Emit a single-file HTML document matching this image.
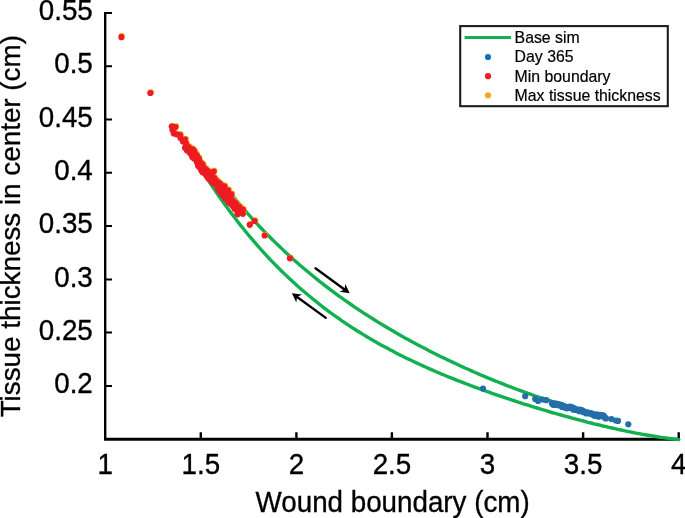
<!DOCTYPE html>
<html><head><meta charset="utf-8"><title>Wound boundary vs tissue thickness</title>
<style>html,body{margin:0;padding:0;background:#fff}body{width:685px;height:518px;overflow:hidden}</style></head>
<body>
<svg width="685" height="518" viewBox="0 0 685 518" style="display:block">
<rect width="685" height="518" fill="#fff"/>
<g stroke="#000" fill="none">
<path d="M105.2 12 V439.2" stroke-width="2.4"/>
<path d="M104 439.2 H680" stroke-width="3"/>
<path d="M200.8 439 V432.3M296.4 439 V432.3M391.9 439 V432.3M487.5 439 V432.3M583.1 439 V432.3M678.7 439 V432.3" stroke-width="2.4"/>
<path d="M105 385.9 H112M105 332.6 H112M105 279.4 H112M105 226.1 H112M105 172.8 H112M105 119.5 H112M105 66.3 H112M105 13.0 H112" stroke-width="2"/>
</g>
<g fill="none" stroke="#12b050" stroke-width="3.4" stroke-linecap="round" stroke-linejoin="round">
<path d="M207.0 178.3 L210.0 182.9 L213.0 187.4 L216.0 191.9 L219.0 196.2 L222.0 200.5 L225.0 204.7 L228.0 208.8 L231.0 212.9 L234.0 216.8 L237.0 220.7 L240.0 224.6 L243.0 228.3 L246.0 232.0 L249.0 235.7 L252.0 239.2 L255.0 242.7 L258.0 246.1 L261.0 249.5 L264.0 252.8 L267.0 256.1 L270.0 259.3 L273.0 262.4 L276.0 265.5 L279.0 268.5 L282.0 271.5 L285.0 274.4 L288.0 277.2 L291.0 280.0 L294.0 282.8 L297.0 285.5 L300.0 288.2 L303.0 290.8 L306.0 293.3 L309.0 295.8 L312.0 298.3 L315.0 300.7 L318.0 303.1 L321.0 305.5 L324.0 307.8 L327.0 310.1 L330.0 312.3 L333.0 314.5 L336.0 316.6 L339.0 318.7 L342.0 320.8 L345.0 322.8 L348.0 324.8 L351.0 326.8 L354.0 328.8 L357.0 330.7 L360.0 332.5 L363.0 334.4 L366.0 336.2 L369.0 338.0 L372.0 339.7 L375.0 341.5 L378.0 343.2 L381.0 344.9 L384.0 346.5 L387.0 348.1 L390.0 349.7 L393.0 351.3 L396.0 352.9 L399.0 354.4 L402.0 355.9 L405.0 357.4 L408.0 358.9 L411.0 360.3 L414.0 361.7 L417.0 363.1 L420.0 364.5 L423.0 365.9 L426.0 367.3 L429.0 368.6 L432.0 369.9 L435.0 371.2 L438.0 372.5 L441.0 373.8 L444.0 375.0 L447.0 376.3 L450.0 377.5 L453.0 378.7 L456.0 379.9 L459.0 381.1 L462.0 382.2 L465.0 383.4 L468.0 384.5 L471.0 385.7 L474.0 386.8 L477.0 387.9 L480.0 389.0 L483.0 390.1 L486.0 391.2 L489.0 392.2 L492.0 393.3 L495.0 394.3 L498.0 395.4 L501.0 396.4 L504.0 397.4 L507.0 398.4 L510.0 399.4 L513.0 400.4 L516.0 401.4 L519.0 402.4 L522.0 403.3 L525.0 404.3 L528.0 405.2 L531.0 406.1 L534.0 407.1 L537.0 408.0 L540.0 408.9 L543.0 409.8 L546.0 410.7 L549.0 411.6 L552.0 412.5 L555.0 413.3 L558.0 414.2 L561.0 415.0 L564.0 415.9 L567.0 416.7 L570.0 417.5 L573.0 418.3 L576.0 419.1 L579.0 419.9 L582.0 420.7 L585.0 421.5 L588.0 422.3 L591.0 423.0 L594.0 423.8 L597.0 424.5 L600.0 425.2 L603.0 426.0 L606.0 426.7 L609.0 427.4 L612.0 428.0 L615.0 428.7 L618.0 429.4 L621.0 430.0 L624.0 430.7 L627.0 431.3 L630.0 431.9 L633.0 432.5 L636.0 433.1 L639.0 433.6 L642.0 434.2 L645.0 434.7 L648.0 435.2 L651.0 435.7 L654.0 436.2 L657.0 436.7 L660.0 437.2 L663.0 437.6 L666.0 438.0 L669.0 438.4 L672.0 438.8 L675.0 439.1 L678.0 439.5 L678.8 439.6"/>
<path d="M222.0 182.5 L225.0 186.4 L228.0 190.1 L231.0 193.8 L234.0 197.5 L237.0 201.1 L240.0 204.7 L243.0 208.1 L246.0 211.6 L249.0 215.0 L252.0 218.3 L255.0 221.6 L258.0 224.8 L261.0 228.0 L264.0 231.1 L267.0 234.2 L270.0 237.2 L273.0 240.2 L276.0 243.1 L279.0 246.0 L282.0 248.9 L285.0 251.7 L288.0 254.5 L291.0 257.2 L294.0 259.9 L297.0 262.6 L300.0 265.2 L303.0 267.8 L306.0 270.3 L309.0 272.8 L312.0 275.3 L315.0 277.7 L318.0 280.1 L321.0 282.5 L324.0 284.8 L327.0 287.1 L330.0 289.4 L333.0 291.7 L336.0 293.9 L339.0 296.1 L342.0 298.2 L345.0 300.3 L348.0 302.4 L351.0 304.5 L354.0 306.6 L357.0 308.6 L360.0 310.6 L363.0 312.6 L366.0 314.5 L369.0 316.4 L372.0 318.3 L375.0 320.2 L378.0 322.1 L381.0 323.9 L384.0 325.7 L387.0 327.5 L390.0 329.3 L393.0 331.0 L396.0 332.8 L399.0 334.5 L402.0 336.2 L405.0 337.9 L408.0 339.5 L411.0 341.2 L414.0 342.8 L417.0 344.4 L420.0 346.0 L423.0 347.6 L426.0 349.1 L429.0 350.7 L432.0 352.2 L435.0 353.7 L438.0 355.2 L441.0 356.7 L444.0 358.1 L447.0 359.6 L450.0 361.0 L453.0 362.4 L456.0 363.8 L459.0 365.2 L462.0 366.6 L465.0 368.0 L468.0 369.3 L471.0 370.6 L474.0 372.0 L477.0 373.3 L480.0 374.6 L483.0 375.8 L486.0 377.1 L489.0 378.4 L492.0 379.6 L495.0 380.8 L498.0 382.0 L501.0 383.2 L504.0 384.4 L507.0 385.6 L510.0 386.7 L513.0 387.9 L516.0 389.0 L519.0 390.1 L522.0 391.2 L525.0 392.3 L528.0 393.4 L531.0 394.4 L534.0 395.5 L537.0 396.5 L540.0 397.5 L543.0 398.5 L546.0 399.5 L549.0 400.4 L552.0 401.4 L555.0 402.3 L558.0 403.2 L561.0 404.1 L564.0 405.0 L567.0 405.9 L570.0 406.7 L573.0 407.5 L574.0 407.8"/>
</g>
<g fill="#f2a81d"><circle cx="121.7" cy="36.1" r="3.1"/><circle cx="151.0" cy="92.3" r="3.1"/><circle cx="172.5" cy="125.8" r="3.1"/><circle cx="176.1" cy="126.3" r="3.1"/><circle cx="174.5" cy="132.7" r="3.1"/><circle cx="180.7" cy="134.3" r="3.1"/><circle cx="181.2" cy="137.3" r="3.1"/><circle cx="185.7" cy="138.9" r="3.1"/><circle cx="186.7" cy="143.0" r="3.1"/><circle cx="185.7" cy="147.1" r="3.1"/><circle cx="190.3" cy="149.6" r="3.1"/><circle cx="192.3" cy="149.3" r="3.1"/><circle cx="255.2" cy="220.3" r="3.1"/><circle cx="250.3" cy="224.1" r="3.1"/><circle cx="265.2" cy="234.8" r="3.1"/><circle cx="290.5" cy="257.6" r="3.1"/><circle cx="173.2" cy="129.3" r="3.1"/><circle cx="177.7" cy="133.8" r="3.1"/><circle cx="183.7" cy="140.8" r="3.1"/><circle cx="189.2" cy="146.3" r="3.1"/><circle cx="187.7" cy="149.8" r="3.1"/><circle cx="190.7" cy="152.3" r="3.1"/><circle cx="193.2" cy="154.8" r="3.1"/><circle cx="225.0" cy="185.6" r="3.1"/><circle cx="228.7" cy="189.6" r="3.1"/><circle cx="232.0" cy="193.6" r="3.1"/><circle cx="238.2" cy="213.6" r="3.1"/><circle cx="243.5" cy="213.1" r="3.1"/><circle cx="243.5" cy="209.0" r="3.1"/><circle cx="235.2" cy="208.0" r="3.1"/><circle cx="214.3" cy="170.8" r="3.1"/><circle cx="191.9" cy="148.8" r="3.1"/><circle cx="192.7" cy="148.6" r="3.1"/><circle cx="191.1" cy="150.3" r="3.1"/><circle cx="193.4" cy="149.0" r="3.1"/><circle cx="191.9" cy="150.6" r="3.1"/><circle cx="192.7" cy="150.4" r="3.1"/><circle cx="194.0" cy="149.8" r="3.1"/><circle cx="192.5" cy="151.4" r="3.1"/><circle cx="194.4" cy="150.3" r="3.1"/><circle cx="193.2" cy="151.7" r="3.1"/><circle cx="194.7" cy="151.0" r="3.1"/><circle cx="194.8" cy="151.4" r="3.1"/><circle cx="193.8" cy="152.6" r="3.1"/><circle cx="192.5" cy="154.0" r="3.1"/><circle cx="195.2" cy="152.3" r="3.1"/><circle cx="195.1" cy="152.9" r="3.1"/><circle cx="193.8" cy="154.3" r="3.1"/><circle cx="192.8" cy="155.5" r="3.1"/><circle cx="194.3" cy="154.8" r="3.1"/><circle cx="195.2" cy="154.6" r="3.1"/><circle cx="193.3" cy="156.5" r="3.1"/><circle cx="196.8" cy="154.2" r="3.1"/><circle cx="194.1" cy="156.7" r="3.1"/><circle cx="196.3" cy="155.4" r="3.1"/><circle cx="197.0" cy="155.3" r="3.1"/><circle cx="197.3" cy="155.5" r="3.1"/><circle cx="196.8" cy="156.4" r="3.1"/><circle cx="195.2" cy="158.1" r="3.1"/><circle cx="197.7" cy="156.6" r="3.1"/><circle cx="196.4" cy="158.0" r="3.1"/><circle cx="196.4" cy="158.4" r="3.1"/><circle cx="197.5" cy="158.0" r="3.1"/><circle cx="197.1" cy="158.8" r="3.1"/><circle cx="199.0" cy="157.7" r="3.1"/><circle cx="199.2" cy="158.0" r="3.1"/><circle cx="198.9" cy="158.7" r="3.1"/><circle cx="197.4" cy="160.3" r="3.1"/><circle cx="198.5" cy="159.9" r="3.1"/><circle cx="199.1" cy="159.9" r="3.1"/><circle cx="198.3" cy="160.9" r="3.1"/><circle cx="198.9" cy="160.8" r="3.1"/><circle cx="199.7" cy="160.7" r="3.1"/><circle cx="198.1" cy="162.4" r="3.1"/><circle cx="198.6" cy="162.4" r="3.1"/><circle cx="200.4" cy="161.4" r="3.1"/><circle cx="199.4" cy="162.6" r="3.1"/><circle cx="199.8" cy="162.8" r="3.1"/><circle cx="198.7" cy="164.1" r="3.1"/><circle cx="199.4" cy="164.0" r="3.1"/><circle cx="201.2" cy="163.0" r="3.1"/><circle cx="198.9" cy="165.2" r="3.1"/><circle cx="202.2" cy="163.1" r="3.1"/><circle cx="201.3" cy="164.3" r="3.1"/><circle cx="200.3" cy="165.5" r="3.1"/><circle cx="202.7" cy="164.1" r="3.1"/><circle cx="201.6" cy="165.3" r="3.1"/><circle cx="203.4" cy="164.4" r="3.1"/><circle cx="201.3" cy="166.4" r="3.1"/><circle cx="201.2" cy="167.0" r="3.1"/><circle cx="202.1" cy="166.7" r="3.1"/><circle cx="201.1" cy="167.9" r="3.1"/><circle cx="203.4" cy="166.6" r="3.1"/><circle cx="202.2" cy="168.0" r="3.1"/><circle cx="202.7" cy="168.0" r="3.1"/><circle cx="203.0" cy="168.2" r="3.1"/><circle cx="203.6" cy="168.2" r="3.1"/><circle cx="202.4" cy="169.5" r="3.1"/><circle cx="202.2" cy="170.1" r="3.1"/><circle cx="204.2" cy="169.0" r="3.1"/><circle cx="203.7" cy="169.8" r="3.1"/><circle cx="206.1" cy="168.4" r="3.1"/><circle cx="204.0" cy="170.4" r="3.1"/><circle cx="204.5" cy="170.5" r="3.1"/><circle cx="203.5" cy="171.8" r="3.1"/><circle cx="204.3" cy="171.5" r="3.1"/><circle cx="206.5" cy="170.3" r="3.1"/><circle cx="206.4" cy="170.8" r="3.1"/><circle cx="205.6" cy="171.9" r="3.1"/><circle cx="208.2" cy="170.3" r="3.1"/><circle cx="206.8" cy="171.8" r="3.1"/><circle cx="208.1" cy="171.2" r="3.1"/><circle cx="208.5" cy="171.3" r="3.1"/><circle cx="209.0" cy="171.4" r="3.1"/><circle cx="206.6" cy="173.7" r="3.1"/><circle cx="209.2" cy="172.1" r="3.1"/><circle cx="209.0" cy="172.7" r="3.1"/><circle cx="208.7" cy="173.4" r="3.1"/><circle cx="207.2" cy="175.0" r="3.1"/><circle cx="210.3" cy="173.0" r="3.1"/><circle cx="209.2" cy="174.3" r="3.1"/><circle cx="209.1" cy="174.8" r="3.1"/><circle cx="208.1" cy="176.0" r="3.1"/><circle cx="208.6" cy="176.1" r="3.1"/><circle cx="208.7" cy="176.5" r="3.1"/><circle cx="211.0" cy="175.1" r="3.1"/><circle cx="210.8" cy="175.7" r="3.1"/><circle cx="211.2" cy="175.8" r="3.1"/><circle cx="209.6" cy="177.5" r="3.1"/><circle cx="209.5" cy="178.0" r="3.1"/><circle cx="212.7" cy="176.0" r="3.1"/><circle cx="212.8" cy="176.3" r="3.1"/><circle cx="212.9" cy="176.7" r="3.1"/><circle cx="213.1" cy="177.0" r="3.1"/><circle cx="212.4" cy="177.9" r="3.1"/><circle cx="212.3" cy="178.5" r="3.1"/><circle cx="213.7" cy="177.8" r="3.1"/><circle cx="214.9" cy="177.3" r="3.1"/><circle cx="213.6" cy="178.8" r="3.1"/><circle cx="214.0" cy="178.9" r="3.1"/><circle cx="213.6" cy="179.7" r="3.1"/><circle cx="212.4" cy="181.0" r="3.1"/><circle cx="213.6" cy="180.5" r="3.1"/><circle cx="214.5" cy="180.3" r="3.1"/><circle cx="214.3" cy="180.8" r="3.1"/><circle cx="214.3" cy="181.3" r="3.1"/><circle cx="216.8" cy="179.8" r="3.1"/><circle cx="214.0" cy="182.4" r="3.1"/><circle cx="214.7" cy="182.3" r="3.1"/><circle cx="214.6" cy="182.8" r="3.1"/><circle cx="215.1" cy="182.9" r="3.1"/><circle cx="216.8" cy="182.0" r="3.1"/><circle cx="217.0" cy="182.2" r="3.1"/><circle cx="218.3" cy="181.7" r="3.1"/><circle cx="216.6" cy="183.4" r="3.1"/><circle cx="219.0" cy="182.1" r="3.1"/><circle cx="219.2" cy="182.3" r="3.1"/><circle cx="218.9" cy="183.0" r="3.1"/><circle cx="219.3" cy="183.1" r="3.1"/><circle cx="218.9" cy="183.9" r="3.1"/><circle cx="220.1" cy="183.4" r="3.1"/><circle cx="220.5" cy="183.5" r="3.1"/><circle cx="220.2" cy="184.2" r="3.1"/><circle cx="220.6" cy="184.3" r="3.1"/><circle cx="219.8" cy="185.3" r="3.1"/><circle cx="221.3" cy="184.7" r="3.1"/><circle cx="218.4" cy="187.3" r="3.1"/><circle cx="219.6" cy="186.9" r="3.1"/><circle cx="221.5" cy="185.8" r="3.1"/><circle cx="221.3" cy="186.4" r="3.1"/><circle cx="221.2" cy="186.9" r="3.1"/><circle cx="221.3" cy="187.2" r="3.1"/><circle cx="222.4" cy="186.8" r="3.1"/><circle cx="220.0" cy="189.2" r="3.1"/><circle cx="219.7" cy="189.8" r="3.1"/><circle cx="221.8" cy="188.6" r="3.1"/><circle cx="221.9" cy="189.0" r="3.1"/><circle cx="223.6" cy="188.1" r="3.1"/><circle cx="223.8" cy="188.4" r="3.1"/><circle cx="223.1" cy="189.4" r="3.1"/><circle cx="223.6" cy="189.4" r="3.1"/><circle cx="221.8" cy="191.3" r="3.1"/><circle cx="224.4" cy="189.7" r="3.1"/><circle cx="225.1" cy="189.6" r="3.1"/><circle cx="222.0" cy="192.5" r="3.1"/><circle cx="223.7" cy="191.5" r="3.1"/><circle cx="225.3" cy="190.7" r="3.1"/><circle cx="224.1" cy="192.1" r="3.1"/><circle cx="226.2" cy="191.0" r="3.1"/><circle cx="224.6" cy="192.6" r="3.1"/><circle cx="223.1" cy="194.2" r="3.1"/><circle cx="223.8" cy="194.1" r="3.1"/><circle cx="224.6" cy="193.9" r="3.1"/><circle cx="226.4" cy="193.0" r="3.1"/><circle cx="226.2" cy="193.6" r="3.1"/><circle cx="227.1" cy="193.3" r="3.1"/><circle cx="225.2" cy="195.2" r="3.1"/><circle cx="226.2" cy="194.8" r="3.1"/><circle cx="225.6" cy="195.8" r="3.1"/><circle cx="227.4" cy="194.8" r="3.1"/><circle cx="228.0" cy="194.8" r="3.1"/><circle cx="226.1" cy="196.7" r="3.1"/><circle cx="225.7" cy="197.5" r="3.1"/><circle cx="226.4" cy="197.4" r="3.1"/><circle cx="226.7" cy="197.5" r="3.1"/><circle cx="226.9" cy="197.8" r="3.1"/><circle cx="227.4" cy="197.9" r="3.1"/><circle cx="229.5" cy="196.7" r="3.1"/><circle cx="228.6" cy="197.8" r="3.1"/><circle cx="229.5" cy="197.6" r="3.1"/><circle cx="230.9" cy="196.9" r="3.1"/><circle cx="231.2" cy="197.2" r="3.1"/><circle cx="230.5" cy="198.1" r="3.1"/><circle cx="230.8" cy="198.3" r="3.1"/><circle cx="229.5" cy="199.8" r="3.1"/><circle cx="228.8" cy="200.8" r="3.1"/><circle cx="230.9" cy="199.6" r="3.1"/><circle cx="229.3" cy="201.2" r="3.1"/><circle cx="229.4" cy="201.6" r="3.1"/><circle cx="229.8" cy="201.7" r="3.1"/><circle cx="232.2" cy="200.3" r="3.1"/><circle cx="232.9" cy="200.2" r="3.1"/><circle cx="233.2" cy="200.4" r="3.1"/><circle cx="233.5" cy="200.6" r="3.1"/><circle cx="233.7" cy="200.8" r="3.1"/><circle cx="232.5" cy="202.3" r="3.1"/><circle cx="231.7" cy="203.3" r="3.1"/><circle cx="232.2" cy="203.4" r="3.1"/><circle cx="233.7" cy="202.6" r="3.1"/><circle cx="233.3" cy="203.3" r="3.1"/><circle cx="233.0" cy="204.0" r="3.1"/><circle cx="235.9" cy="202.2" r="3.1"/><circle cx="234.0" cy="204.1" r="3.1"/><circle cx="233.4" cy="205.0" r="3.1"/><circle cx="234.1" cy="204.9" r="3.1"/><circle cx="234.5" cy="205.1" r="3.1"/><circle cx="235.7" cy="204.5" r="3.1"/><circle cx="237.0" cy="203.9" r="3.1"/><circle cx="235.1" cy="205.9" r="3.1"/><circle cx="237.0" cy="204.9" r="3.1"/><circle cx="235.5" cy="206.4" r="3.1"/><circle cx="235.1" cy="207.1" r="3.1"/><circle cx="237.5" cy="205.8" r="3.1"/><circle cx="237.7" cy="206.0" r="3.1"/><circle cx="236.0" cy="207.8" r="3.1"/><circle cx="237.0" cy="207.4" r="3.1"/><circle cx="239.3" cy="206.1" r="3.1"/><circle cx="239.7" cy="206.2" r="3.1"/><circle cx="239.8" cy="206.6" r="3.1"/><circle cx="237.4" cy="208.9" r="3.1"/><circle cx="238.0" cy="208.9" r="3.1"/><circle cx="240.6" cy="207.3" r="3.1"/><circle cx="238.3" cy="209.5" r="3.1"/><circle cx="237.9" cy="210.2" r="3.1"/><circle cx="239.3" cy="209.6" r="3.1"/><circle cx="240.7" cy="209.0" r="3.1"/><circle cx="240.1" cy="209.8" r="3.1"/><circle cx="241.9" cy="208.9" r="3.1"/><circle cx="242.5" cy="208.9" r="3.1"/><circle cx="239.2" cy="211.8" r="3.1"/><circle cx="240.6" cy="211.2" r="3.1"/></g>
<g fill="#246eaa"><circle cx="483.0" cy="388.6" r="3.1"/><circle cx="525.2" cy="396.2" r="3.1"/><circle cx="535.2" cy="399.0" r="3.1"/><circle cx="538.0" cy="401.0" r="3.1"/><circle cx="542.5" cy="399.5" r="3.1"/><circle cx="546.2" cy="400.2" r="3.1"/><circle cx="628.3" cy="424.3" r="3.1"/><circle cx="618.0" cy="420.9" r="3.1"/><circle cx="615.8" cy="420.5" r="3.1"/><circle cx="611.4" cy="419.0" r="3.1"/><circle cx="552.0" cy="403.4" r="3.1"/><circle cx="552.8" cy="404.6" r="3.1"/><circle cx="553.6" cy="403.5" r="3.1"/><circle cx="554.3" cy="404.9" r="3.1"/><circle cx="555.1" cy="405.0" r="3.1"/><circle cx="555.9" cy="403.6" r="3.1"/><circle cx="556.7" cy="403.9" r="3.1"/><circle cx="557.5" cy="404.2" r="3.1"/><circle cx="558.3" cy="404.3" r="3.1"/><circle cx="559.0" cy="405.4" r="3.1"/><circle cx="559.8" cy="404.7" r="3.1"/><circle cx="560.6" cy="405.3" r="3.1"/><circle cx="561.4" cy="404.8" r="3.1"/><circle cx="562.2" cy="407.0" r="3.1"/><circle cx="563.0" cy="405.8" r="3.1"/><circle cx="563.7" cy="406.3" r="3.1"/><circle cx="564.5" cy="406.8" r="3.1"/><circle cx="565.3" cy="407.8" r="3.1"/><circle cx="566.1" cy="406.8" r="3.1"/><circle cx="566.9" cy="408.3" r="3.1"/><circle cx="567.7" cy="407.4" r="3.1"/><circle cx="568.4" cy="407.7" r="3.1"/><circle cx="569.2" cy="407.9" r="3.1"/><circle cx="570.0" cy="406.7" r="3.1"/><circle cx="570.8" cy="408.0" r="3.1"/><circle cx="571.6" cy="407.6" r="3.1"/><circle cx="572.3" cy="407.3" r="3.1"/><circle cx="573.1" cy="409.6" r="3.1"/><circle cx="573.9" cy="408.2" r="3.1"/><circle cx="574.7" cy="409.2" r="3.1"/><circle cx="575.5" cy="410.0" r="3.1"/><circle cx="576.3" cy="409.8" r="3.1"/><circle cx="577.0" cy="409.4" r="3.1"/><circle cx="577.8" cy="410.1" r="3.1"/><circle cx="578.6" cy="410.4" r="3.1"/><circle cx="579.4" cy="411.2" r="3.1"/><circle cx="580.2" cy="409.6" r="3.1"/><circle cx="581.0" cy="411.0" r="3.1"/><circle cx="581.7" cy="410.4" r="3.1"/><circle cx="582.5" cy="410.7" r="3.1"/><circle cx="583.3" cy="412.2" r="3.1"/><circle cx="584.1" cy="411.7" r="3.1"/><circle cx="584.9" cy="412.0" r="3.1"/><circle cx="585.7" cy="412.8" r="3.1"/><circle cx="586.4" cy="413.4" r="3.1"/><circle cx="587.2" cy="412.3" r="3.1"/><circle cx="588.0" cy="413.0" r="3.1"/><circle cx="588.8" cy="412.9" r="3.1"/><circle cx="589.6" cy="413.1" r="3.1"/><circle cx="590.3" cy="413.8" r="3.1"/><circle cx="591.1" cy="413.4" r="3.1"/><circle cx="591.9" cy="413.8" r="3.1"/><circle cx="592.7" cy="413.9" r="3.1"/><circle cx="593.5" cy="415.3" r="3.1"/><circle cx="594.3" cy="414.9" r="3.1"/><circle cx="595.0" cy="415.5" r="3.1"/><circle cx="595.8" cy="415.9" r="3.1"/><circle cx="596.6" cy="414.3" r="3.1"/><circle cx="597.4" cy="415.3" r="3.1"/><circle cx="598.2" cy="416.5" r="3.1"/><circle cx="599.0" cy="416.4" r="3.1"/><circle cx="599.7" cy="414.8" r="3.1"/><circle cx="600.5" cy="415.0" r="3.1"/><circle cx="601.3" cy="416.0" r="3.1"/><circle cx="602.1" cy="415.3" r="3.1"/><circle cx="602.9" cy="415.9" r="3.1"/><circle cx="603.7" cy="415.7" r="3.1"/><circle cx="604.4" cy="417.4" r="3.1"/><circle cx="605.2" cy="417.9" r="3.1"/><circle cx="606.0" cy="418.4" r="3.1"/></g>
<g fill="#ed1c24"><circle cx="121.4" cy="37.2" r="3.1"/><circle cx="150.3" cy="93.0" r="3.1"/><circle cx="171.8" cy="126.5" r="3.1"/><circle cx="175.4" cy="127.0" r="3.1"/><circle cx="173.8" cy="133.4" r="3.1"/><circle cx="180.0" cy="135.0" r="3.1"/><circle cx="180.5" cy="138.0" r="3.1"/><circle cx="185.0" cy="139.6" r="3.1"/><circle cx="186.0" cy="143.7" r="3.1"/><circle cx="185.0" cy="147.8" r="3.1"/><circle cx="189.7" cy="150.3" r="3.1"/><circle cx="191.7" cy="150.0" r="3.1"/><circle cx="254.5" cy="221.0" r="3.1"/><circle cx="249.7" cy="224.8" r="3.1"/><circle cx="264.6" cy="235.5" r="3.1"/><circle cx="289.9" cy="258.3" r="3.1"/><circle cx="172.5" cy="130.0" r="3.1"/><circle cx="177.0" cy="134.5" r="3.1"/><circle cx="183.0" cy="141.5" r="3.1"/><circle cx="188.5" cy="147.0" r="3.1"/><circle cx="187.0" cy="150.5" r="3.1"/><circle cx="190.0" cy="153.0" r="3.1"/><circle cx="192.5" cy="155.5" r="3.1"/><circle cx="224.3" cy="186.3" r="3.1"/><circle cx="228.0" cy="190.3" r="3.1"/><circle cx="231.3" cy="194.3" r="3.1"/><circle cx="237.6" cy="214.3" r="3.1"/><circle cx="242.8" cy="213.8" r="3.1"/><circle cx="242.8" cy="209.7" r="3.1"/><circle cx="234.6" cy="208.7" r="3.1"/><circle cx="213.7" cy="171.5" r="3.1"/><circle cx="191.2" cy="149.5" r="3.1"/><circle cx="192.1" cy="149.3" r="3.1"/><circle cx="190.4" cy="151.0" r="3.1"/><circle cx="192.7" cy="149.7" r="3.1"/><circle cx="191.2" cy="151.3" r="3.1"/><circle cx="192.0" cy="151.1" r="3.1"/><circle cx="193.3" cy="150.5" r="3.1"/><circle cx="191.9" cy="152.1" r="3.1"/><circle cx="193.8" cy="151.0" r="3.1"/><circle cx="192.5" cy="152.4" r="3.1"/><circle cx="194.0" cy="151.7" r="3.1"/><circle cx="194.2" cy="152.1" r="3.1"/><circle cx="193.1" cy="153.3" r="3.1"/><circle cx="191.9" cy="154.7" r="3.1"/><circle cx="194.6" cy="153.0" r="3.1"/><circle cx="194.4" cy="153.6" r="3.1"/><circle cx="193.1" cy="155.0" r="3.1"/><circle cx="192.2" cy="156.2" r="3.1"/><circle cx="193.7" cy="155.5" r="3.1"/><circle cx="194.5" cy="155.3" r="3.1"/><circle cx="192.6" cy="157.2" r="3.1"/><circle cx="196.2" cy="154.9" r="3.1"/><circle cx="193.4" cy="157.4" r="3.1"/><circle cx="195.7" cy="156.1" r="3.1"/><circle cx="196.4" cy="156.0" r="3.1"/><circle cx="196.7" cy="156.2" r="3.1"/><circle cx="196.2" cy="157.1" r="3.1"/><circle cx="194.5" cy="158.8" r="3.1"/><circle cx="197.0" cy="157.3" r="3.1"/><circle cx="195.7" cy="158.7" r="3.1"/><circle cx="195.7" cy="159.1" r="3.1"/><circle cx="196.9" cy="158.7" r="3.1"/><circle cx="196.4" cy="159.5" r="3.1"/><circle cx="198.4" cy="158.4" r="3.1"/><circle cx="198.6" cy="158.7" r="3.1"/><circle cx="198.2" cy="159.4" r="3.1"/><circle cx="196.7" cy="161.0" r="3.1"/><circle cx="197.8" cy="160.6" r="3.1"/><circle cx="198.4" cy="160.6" r="3.1"/><circle cx="197.6" cy="161.6" r="3.1"/><circle cx="198.3" cy="161.5" r="3.1"/><circle cx="199.0" cy="161.4" r="3.1"/><circle cx="197.4" cy="163.1" r="3.1"/><circle cx="197.9" cy="163.1" r="3.1"/><circle cx="199.8" cy="162.1" r="3.1"/><circle cx="198.8" cy="163.3" r="3.1"/><circle cx="199.1" cy="163.5" r="3.1"/><circle cx="198.1" cy="164.8" r="3.1"/><circle cx="198.8" cy="164.7" r="3.1"/><circle cx="200.6" cy="163.7" r="3.1"/><circle cx="198.2" cy="165.9" r="3.1"/><circle cx="201.6" cy="163.8" r="3.1"/><circle cx="200.7" cy="165.0" r="3.1"/><circle cx="199.6" cy="166.2" r="3.1"/><circle cx="202.0" cy="164.8" r="3.1"/><circle cx="201.0" cy="166.0" r="3.1"/><circle cx="202.8" cy="165.1" r="3.1"/><circle cx="200.7" cy="167.1" r="3.1"/><circle cx="200.5" cy="167.7" r="3.1"/><circle cx="201.4" cy="167.4" r="3.1"/><circle cx="200.5" cy="168.6" r="3.1"/><circle cx="202.7" cy="167.3" r="3.1"/><circle cx="201.5" cy="168.7" r="3.1"/><circle cx="202.1" cy="168.7" r="3.1"/><circle cx="202.3" cy="168.9" r="3.1"/><circle cx="203.0" cy="168.9" r="3.1"/><circle cx="201.8" cy="170.2" r="3.1"/><circle cx="201.6" cy="170.8" r="3.1"/><circle cx="203.5" cy="169.7" r="3.1"/><circle cx="203.0" cy="170.5" r="3.1"/><circle cx="205.5" cy="169.1" r="3.1"/><circle cx="203.4" cy="171.1" r="3.1"/><circle cx="203.8" cy="171.2" r="3.1"/><circle cx="202.8" cy="172.5" r="3.1"/><circle cx="203.7" cy="172.2" r="3.1"/><circle cx="205.9" cy="171.0" r="3.1"/><circle cx="205.7" cy="171.5" r="3.1"/><circle cx="204.9" cy="172.6" r="3.1"/><circle cx="207.5" cy="171.0" r="3.1"/><circle cx="206.2" cy="172.5" r="3.1"/><circle cx="207.5" cy="171.9" r="3.1"/><circle cx="207.9" cy="172.0" r="3.1"/><circle cx="208.3" cy="172.1" r="3.1"/><circle cx="206.0" cy="174.4" r="3.1"/><circle cx="208.6" cy="172.8" r="3.1"/><circle cx="208.4" cy="173.4" r="3.1"/><circle cx="208.1" cy="174.1" r="3.1"/><circle cx="206.6" cy="175.7" r="3.1"/><circle cx="209.7" cy="173.7" r="3.1"/><circle cx="208.6" cy="175.0" r="3.1"/><circle cx="208.5" cy="175.5" r="3.1"/><circle cx="207.5" cy="176.7" r="3.1"/><circle cx="208.0" cy="176.8" r="3.1"/><circle cx="208.0" cy="177.2" r="3.1"/><circle cx="210.4" cy="175.8" r="3.1"/><circle cx="210.1" cy="176.4" r="3.1"/><circle cx="210.6" cy="176.5" r="3.1"/><circle cx="208.9" cy="178.2" r="3.1"/><circle cx="208.9" cy="178.7" r="3.1"/><circle cx="212.0" cy="176.7" r="3.1"/><circle cx="212.2" cy="177.0" r="3.1"/><circle cx="212.2" cy="177.4" r="3.1"/><circle cx="212.5" cy="177.7" r="3.1"/><circle cx="211.8" cy="178.6" r="3.1"/><circle cx="211.6" cy="179.2" r="3.1"/><circle cx="213.1" cy="178.5" r="3.1"/><circle cx="214.2" cy="178.0" r="3.1"/><circle cx="213.0" cy="179.5" r="3.1"/><circle cx="213.4" cy="179.6" r="3.1"/><circle cx="212.9" cy="180.4" r="3.1"/><circle cx="211.7" cy="181.7" r="3.1"/><circle cx="212.9" cy="181.2" r="3.1"/><circle cx="213.8" cy="181.0" r="3.1"/><circle cx="213.7" cy="181.5" r="3.1"/><circle cx="213.7" cy="182.0" r="3.1"/><circle cx="216.2" cy="180.5" r="3.1"/><circle cx="213.4" cy="183.1" r="3.1"/><circle cx="214.0" cy="183.0" r="3.1"/><circle cx="213.9" cy="183.5" r="3.1"/><circle cx="214.4" cy="183.6" r="3.1"/><circle cx="216.2" cy="182.7" r="3.1"/><circle cx="216.4" cy="182.9" r="3.1"/><circle cx="217.7" cy="182.4" r="3.1"/><circle cx="216.0" cy="184.1" r="3.1"/><circle cx="218.3" cy="182.8" r="3.1"/><circle cx="218.5" cy="183.0" r="3.1"/><circle cx="218.3" cy="183.7" r="3.1"/><circle cx="218.6" cy="183.8" r="3.1"/><circle cx="218.2" cy="184.6" r="3.1"/><circle cx="219.5" cy="184.1" r="3.1"/><circle cx="219.9" cy="184.2" r="3.1"/><circle cx="219.5" cy="184.9" r="3.1"/><circle cx="219.9" cy="185.0" r="3.1"/><circle cx="219.2" cy="186.0" r="3.1"/><circle cx="220.6" cy="185.4" r="3.1"/><circle cx="217.7" cy="188.0" r="3.1"/><circle cx="218.9" cy="187.6" r="3.1"/><circle cx="220.8" cy="186.5" r="3.1"/><circle cx="220.6" cy="187.1" r="3.1"/><circle cx="220.5" cy="187.6" r="3.1"/><circle cx="220.7" cy="187.9" r="3.1"/><circle cx="221.8" cy="187.5" r="3.1"/><circle cx="219.3" cy="189.9" r="3.1"/><circle cx="219.0" cy="190.5" r="3.1"/><circle cx="221.1" cy="189.3" r="3.1"/><circle cx="221.3" cy="189.7" r="3.1"/><circle cx="223.0" cy="188.8" r="3.1"/><circle cx="223.1" cy="189.1" r="3.1"/><circle cx="222.5" cy="190.1" r="3.1"/><circle cx="222.9" cy="190.1" r="3.1"/><circle cx="221.1" cy="192.0" r="3.1"/><circle cx="223.7" cy="190.4" r="3.1"/><circle cx="224.5" cy="190.3" r="3.1"/><circle cx="221.3" cy="193.2" r="3.1"/><circle cx="223.1" cy="192.2" r="3.1"/><circle cx="224.7" cy="191.4" r="3.1"/><circle cx="223.4" cy="192.8" r="3.1"/><circle cx="225.5" cy="191.7" r="3.1"/><circle cx="223.9" cy="193.3" r="3.1"/><circle cx="222.5" cy="194.9" r="3.1"/><circle cx="223.1" cy="194.8" r="3.1"/><circle cx="223.9" cy="194.6" r="3.1"/><circle cx="225.7" cy="193.7" r="3.1"/><circle cx="225.6" cy="194.3" r="3.1"/><circle cx="226.5" cy="194.0" r="3.1"/><circle cx="224.5" cy="195.9" r="3.1"/><circle cx="225.6" cy="195.5" r="3.1"/><circle cx="224.9" cy="196.5" r="3.1"/><circle cx="226.8" cy="195.5" r="3.1"/><circle cx="227.4" cy="195.5" r="3.1"/><circle cx="225.4" cy="197.4" r="3.1"/><circle cx="225.0" cy="198.2" r="3.1"/><circle cx="225.7" cy="198.1" r="3.1"/><circle cx="226.1" cy="198.2" r="3.1"/><circle cx="226.3" cy="198.5" r="3.1"/><circle cx="226.8" cy="198.6" r="3.1"/><circle cx="228.8" cy="197.4" r="3.1"/><circle cx="228.0" cy="198.5" r="3.1"/><circle cx="228.8" cy="198.3" r="3.1"/><circle cx="230.3" cy="197.6" r="3.1"/><circle cx="230.5" cy="197.9" r="3.1"/><circle cx="229.9" cy="198.8" r="3.1"/><circle cx="230.2" cy="199.0" r="3.1"/><circle cx="228.8" cy="200.5" r="3.1"/><circle cx="228.1" cy="201.5" r="3.1"/><circle cx="230.2" cy="200.3" r="3.1"/><circle cx="228.7" cy="201.9" r="3.1"/><circle cx="228.8" cy="202.3" r="3.1"/><circle cx="229.1" cy="202.4" r="3.1"/><circle cx="231.5" cy="201.0" r="3.1"/><circle cx="232.3" cy="200.9" r="3.1"/><circle cx="232.5" cy="201.1" r="3.1"/><circle cx="232.9" cy="201.3" r="3.1"/><circle cx="233.1" cy="201.5" r="3.1"/><circle cx="231.8" cy="203.0" r="3.1"/><circle cx="231.0" cy="204.0" r="3.1"/><circle cx="231.5" cy="204.1" r="3.1"/><circle cx="233.1" cy="203.3" r="3.1"/><circle cx="232.7" cy="204.0" r="3.1"/><circle cx="232.4" cy="204.7" r="3.1"/><circle cx="235.2" cy="202.9" r="3.1"/><circle cx="233.4" cy="204.8" r="3.1"/><circle cx="232.7" cy="205.7" r="3.1"/><circle cx="233.4" cy="205.6" r="3.1"/><circle cx="233.8" cy="205.8" r="3.1"/><circle cx="235.0" cy="205.2" r="3.1"/><circle cx="236.4" cy="204.6" r="3.1"/><circle cx="234.4" cy="206.6" r="3.1"/><circle cx="236.3" cy="205.6" r="3.1"/><circle cx="234.9" cy="207.1" r="3.1"/><circle cx="234.5" cy="207.8" r="3.1"/><circle cx="236.8" cy="206.5" r="3.1"/><circle cx="237.1" cy="206.7" r="3.1"/><circle cx="235.3" cy="208.5" r="3.1"/><circle cx="236.4" cy="208.1" r="3.1"/><circle cx="238.6" cy="206.8" r="3.1"/><circle cx="239.0" cy="206.9" r="3.1"/><circle cx="239.2" cy="207.3" r="3.1"/><circle cx="236.7" cy="209.6" r="3.1"/><circle cx="237.3" cy="209.6" r="3.1"/><circle cx="239.9" cy="208.0" r="3.1"/><circle cx="237.6" cy="210.2" r="3.1"/><circle cx="237.3" cy="210.9" r="3.1"/><circle cx="238.7" cy="210.3" r="3.1"/><circle cx="240.0" cy="209.7" r="3.1"/><circle cx="239.5" cy="210.5" r="3.1"/><circle cx="241.2" cy="209.6" r="3.1"/><circle cx="241.8" cy="209.6" r="3.1"/><circle cx="238.6" cy="212.5" r="3.1"/><circle cx="240.0" cy="211.9" r="3.1"/></g>
<path d="M315.5 268.2 L344.5 289.5" stroke="#000" stroke-width="2.3" stroke-linecap="round" fill="none"/><path d="M349.7 293.3 L339.6 291.8 L344.5 289.5 L345.3 284.1 Z" fill="#000"/>
<path d="M325.8 317.9 L297.1 297.0" stroke="#000" stroke-width="2.3" stroke-linecap="round" fill="none"/><path d="M291.9 293.2 L302.0 294.6 L297.1 297.0 L296.3 302.4 Z" fill="#000"/>
<text transform="translate(92.8 393.1) scale(0.973 1.045)" font-size="28.5" text-anchor="end" font-family="Liberation Sans, Arial, Helvetica, sans-serif" fill="#000" stroke="#000" stroke-width="0.34">0.2</text>
<text transform="translate(92.8 339.8) scale(0.973 1.045)" font-size="28.5" text-anchor="end" font-family="Liberation Sans, Arial, Helvetica, sans-serif" fill="#000" stroke="#000" stroke-width="0.34">0.25</text>
<text transform="translate(92.8 286.5) scale(0.973 1.045)" font-size="28.5" text-anchor="end" font-family="Liberation Sans, Arial, Helvetica, sans-serif" fill="#000" stroke="#000" stroke-width="0.34">0.3</text>
<text transform="translate(92.8 233.2) scale(0.973 1.045)" font-size="28.5" text-anchor="end" font-family="Liberation Sans, Arial, Helvetica, sans-serif" fill="#000" stroke="#000" stroke-width="0.34">0.35</text>
<text transform="translate(92.8 180.0) scale(0.973 1.045)" font-size="28.5" text-anchor="end" font-family="Liberation Sans, Arial, Helvetica, sans-serif" fill="#000" stroke="#000" stroke-width="0.34">0.4</text>
<text transform="translate(92.8 126.7) scale(0.973 1.045)" font-size="28.5" text-anchor="end" font-family="Liberation Sans, Arial, Helvetica, sans-serif" fill="#000" stroke="#000" stroke-width="0.34">0.45</text>
<text transform="translate(92.8 73.4) scale(0.973 1.045)" font-size="28.5" text-anchor="end" font-family="Liberation Sans, Arial, Helvetica, sans-serif" fill="#000" stroke="#000" stroke-width="0.34">0.5</text>
<text transform="translate(92.8 20.1) scale(0.973 1.045)" font-size="28.5" text-anchor="end" font-family="Liberation Sans, Arial, Helvetica, sans-serif" fill="#000" stroke="#000" stroke-width="0.34">0.55</text>
<text transform="translate(105.2 473.6) scale(0.973 1.045)" font-size="28.5" text-anchor="middle" font-family="Liberation Sans, Arial, Helvetica, sans-serif" fill="#000" stroke="#000" stroke-width="0.34">1</text>
<text transform="translate(200.8 473.6) scale(0.973 1.045)" font-size="28.5" text-anchor="middle" font-family="Liberation Sans, Arial, Helvetica, sans-serif" fill="#000" stroke="#000" stroke-width="0.34">1.5</text>
<text transform="translate(296.4 473.6) scale(0.973 1.045)" font-size="28.5" text-anchor="middle" font-family="Liberation Sans, Arial, Helvetica, sans-serif" fill="#000" stroke="#000" stroke-width="0.34">2</text>
<text transform="translate(391.9 473.6) scale(0.973 1.045)" font-size="28.5" text-anchor="middle" font-family="Liberation Sans, Arial, Helvetica, sans-serif" fill="#000" stroke="#000" stroke-width="0.34">2.5</text>
<text transform="translate(487.5 473.6) scale(0.973 1.045)" font-size="28.5" text-anchor="middle" font-family="Liberation Sans, Arial, Helvetica, sans-serif" fill="#000" stroke="#000" stroke-width="0.34">3</text>
<text transform="translate(583.1 473.6) scale(0.973 1.045)" font-size="28.5" text-anchor="middle" font-family="Liberation Sans, Arial, Helvetica, sans-serif" fill="#000" stroke="#000" stroke-width="0.34">3.5</text>
<text transform="translate(678.7 473.6) scale(0.973 1.045)" font-size="28.5" text-anchor="middle" font-family="Liberation Sans, Arial, Helvetica, sans-serif" fill="#000" stroke="#000" stroke-width="0.34">4</text>
<text transform="translate(392.6 511.5) scale(0.971 1.000)" font-size="28.6" text-anchor="middle" font-family="Liberation Sans, Arial, Helvetica, sans-serif" fill="#000" stroke="#000" stroke-width="0.34">Wound boundary (cm)</text>
<text transform="translate(20.2 226.2) rotate(-90) scale(1.008 1.000)" font-size="27.6" text-anchor="middle" font-family="Liberation Sans, Arial, Helvetica, sans-serif" fill="#000" stroke="#000" stroke-width="0.33">Tissue thickness in center (cm)</text>
<rect x="460.2" y="26.1" width="207.6" height="80.1" fill="#fff" stroke="#1e1e1e" stroke-width="2.1"/>
<path d="M464.6 37.5 H511" stroke="#12b050" stroke-width="3.2"/>
<circle cx="488" cy="57" r="3.1" fill="#0d71bc"/>
<circle cx="488" cy="76.2" r="3.1" fill="#ed1c24"/>
<circle cx="488" cy="95.3" r="3.1" fill="#f2a81d"/>
<text transform="translate(514.6 43.3) scale(0.966 1.000)" font-size="16.4" text-anchor="start" font-family="Liberation Sans, Arial, Helvetica, sans-serif" fill="#000" stroke="#000" stroke-width="0.20">Base sim</text>
<text transform="translate(514.6 62.4) scale(0.966 1.000)" font-size="16.4" text-anchor="start" font-family="Liberation Sans, Arial, Helvetica, sans-serif" fill="#000" stroke="#000" stroke-width="0.20">Day 365</text>
<text transform="translate(514.6 81.5) scale(0.966 1.000)" font-size="16.4" text-anchor="start" font-family="Liberation Sans, Arial, Helvetica, sans-serif" fill="#000" stroke="#000" stroke-width="0.20">Min boundary</text>
<text transform="translate(514.6 100.6) scale(0.966 1.000)" font-size="16.4" text-anchor="start" font-family="Liberation Sans, Arial, Helvetica, sans-serif" fill="#000" stroke="#000" stroke-width="0.20">Max tissue thickness</text>
</svg>
</body></html>
